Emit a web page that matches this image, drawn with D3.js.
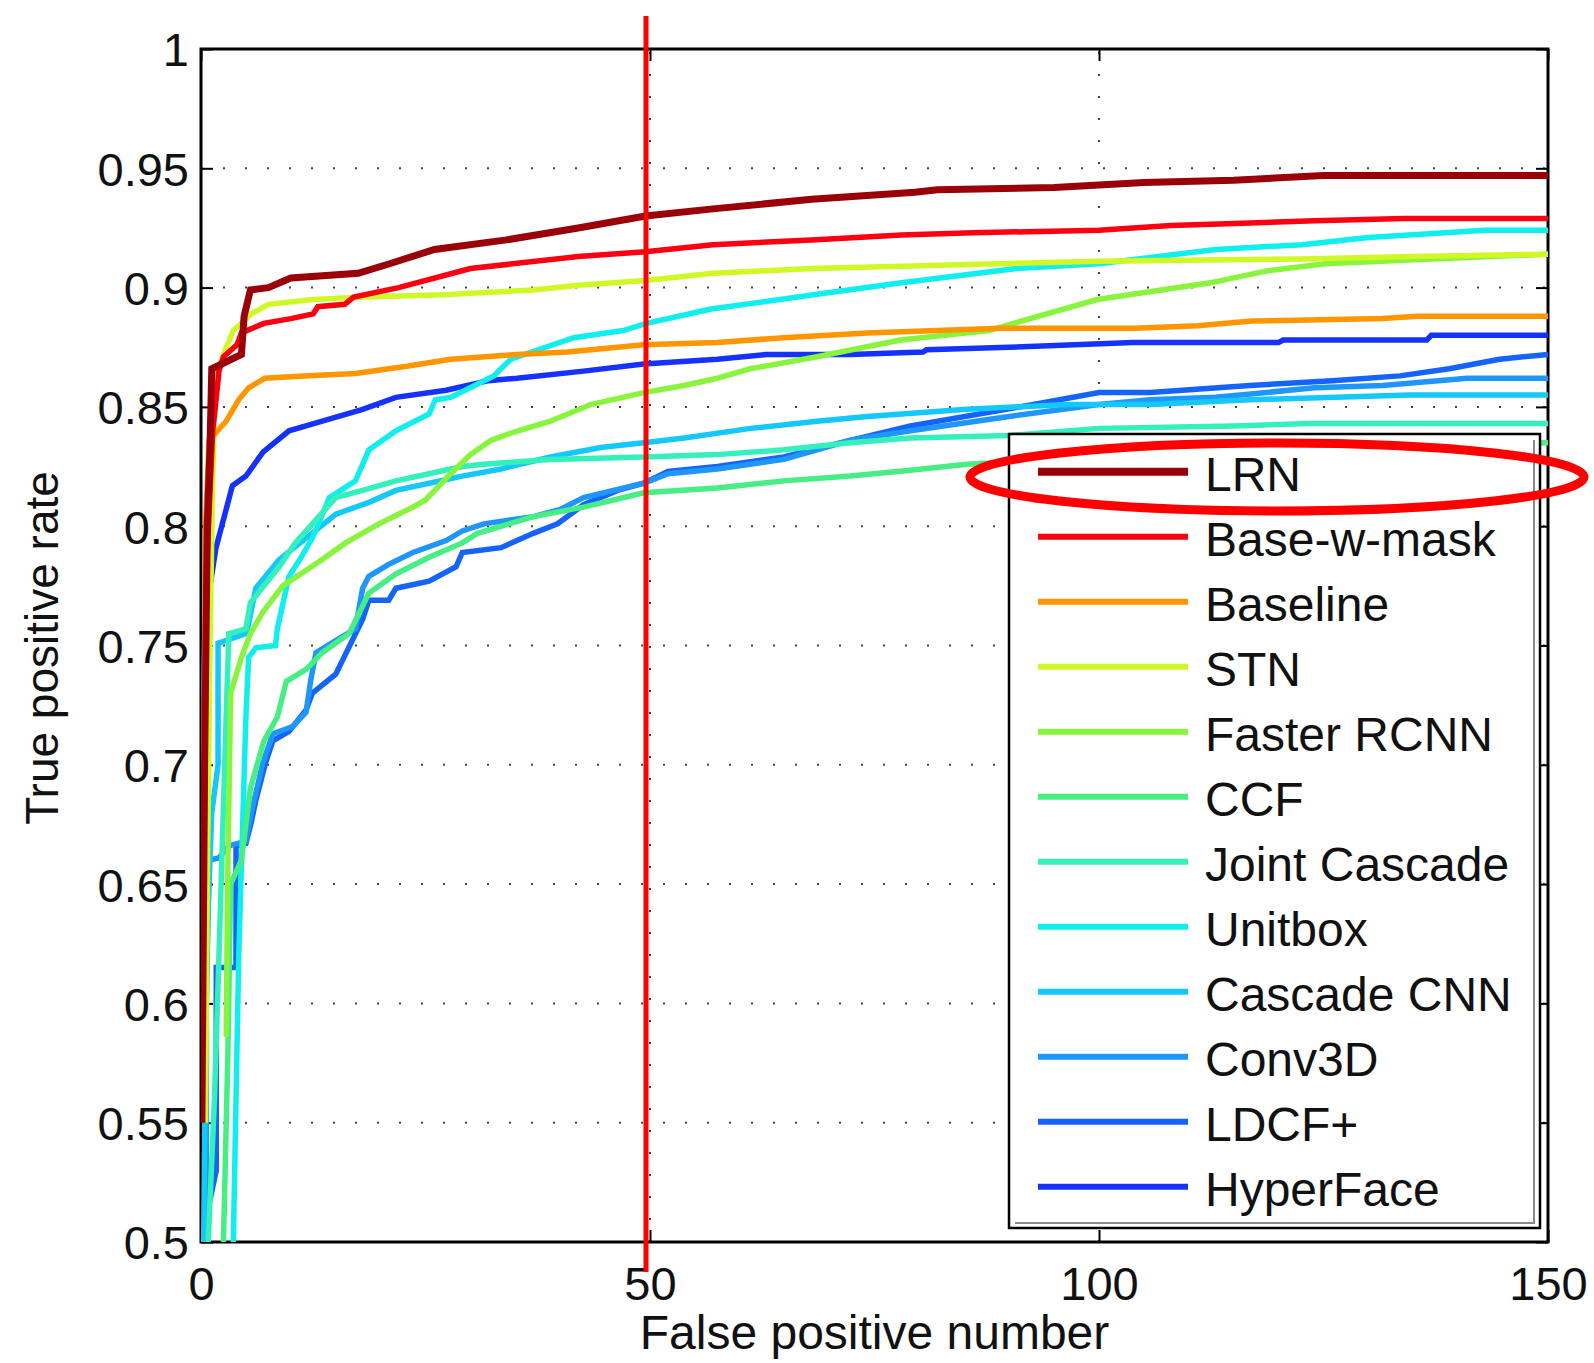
<!DOCTYPE html>
<html>
<head>
<meta charset="utf-8">
<script src="https://cdn.jsdelivr.net/npm/d3@7"></script>
<style>
  html, body { margin: 0; padding: 0; background: #fff; }
  svg text { font-family: "Liberation Sans", Arial, sans-serif; fill: #111; }
</style>
</head>
<body>
<div id="plot"></div>
<script>
// series: [false positives, true positive rate]
const lrn = [[0.1,0.55],[0.4,0.70],[0.7,0.80],[1,0.833],[1.2,0.866],[4.5,0.872],[4.8,0.888],[5.5,0.899],[7.5,0.900],[10,0.904],[17.5,0.906],[21,0.910],[26,0.916],[34,0.920],[42,0.925],[49.5,0.930],[57,0.933],[68,0.937],[79.5,0.940],[82,0.941],[95,0.942],[105,0.944],[115,0.945],[125,0.947],[150,0.947]];
const baseWMask = [[0.2,0.60],[0.6,0.78],[1.3,0.84],[1.6,0.85],[2,0.865],[2.5,0.871],[4,0.876],[4.5,0.881],[7,0.885],[10,0.887],[12.5,0.889],[13,0.892],[16,0.893],[17,0.896],[22,0.900],[30,0.908],[42,0.913],[49.5,0.915],[57,0.918],[68,0.920],[78,0.922],[86,0.923],[100,0.924],[108,0.926],[116,0.927],[124,0.928],[134,0.929],[150,0.929]];
const baseline = [[0,0.55],[0.2,0.65],[0.5,0.80],[0.9,0.836],[2.8,0.844],[4.2,0.853],[5.3,0.858],[7.1,0.862],[11.5,0.863],[17.2,0.864],[22.9,0.867],[27.8,0.870],[35.2,0.872],[40.8,0.873],[49.3,0.876],[57.5,0.877],[64.9,0.879],[74.2,0.881],[89,0.883],[104,0.883],[111,0.884],[117,0.886],[131.6,0.887],[135.4,0.888],[150,0.888]];
const stn = [[0.5,0.55],[0.7,0.65],[1,0.75],[1.3,0.82],[1.6,0.862],[2.5,0.872],[3.6,0.882],[5.6,0.889],[7.5,0.893],[12.5,0.895],[17.5,0.896],[27,0.897],[37,0.899],[42,0.901],[49.5,0.903],[57,0.906],[68,0.908],[78,0.909],[100,0.911],[122.6,0.912],[135,0.913],[150,0.914]];
const fasterRcnn = [[2.8,0.586],[3,0.66],[3.3,0.73],[4.5,0.745],[5.5,0.755],[6.9,0.764],[9.1,0.775],[13.5,0.786],[16.1,0.793],[19.8,0.801],[23.6,0.808],[25,0.811],[27.8,0.822],[30,0.830],[32.3,0.836],[34.5,0.839],[38.9,0.844],[43.4,0.851],[49.3,0.856],[53.8,0.859],[57.5,0.862],[61.2,0.866],[68.6,0.871],[77.9,0.878],[87.7,0.882],[99.8,0.895],[112.4,0.902],[118.7,0.907],[125.2,0.910],[137,0.912],[150,0.914]];
const ccf = [[2.5,0.50],[3,0.58],[3.3,0.65],[4.5,0.66],[5.5,0.69],[7,0.71],[8.5,0.72],[9.5,0.735],[11.7,0.740],[13.5,0.747],[15,0.751],[16.5,0.755],[18.7,0.772],[21.7,0.780],[25.4,0.787],[29.1,0.793],[30.8,0.797],[37,0.804],[42.6,0.808],[49.3,0.814],[57.5,0.816],[64.9,0.819],[72.3,0.821],[77.9,0.823],[85.3,0.826],[100,0.829],[120,0.832],[150,0.835]];
const jointCascade = [[0.8,0.50],[1.5,0.56],[2,0.62],[2.8,0.72],[3.1,0.755],[5,0.757],[5.5,0.768],[7,0.775],[8.7,0.783],[10.5,0.793],[12.4,0.801],[15,0.812],[18,0.815],[21.7,0.819],[25.4,0.822],[29.1,0.825],[31.5,0.826],[38.9,0.828],[49.3,0.829],[57.5,0.830],[64.9,0.832],[72.3,0.835],[79,0.837],[90,0.838],[100,0.841],[115,0.842],[123.4,0.843],[150,0.843]];
const unitbox = [[3.6,0.50],[4.2,0.62],[5,0.72],[5.3,0.745],[6.1,0.749],[8.3,0.750],[8.5,0.757],[9.8,0.779],[11,0.786],[12.4,0.795],[14.3,0.812],[17.2,0.819],[18.7,0.832],[21.7,0.840],[25.4,0.847],[26.1,0.853],[27.8,0.854],[32.6,0.863],[34.5,0.870],[41.5,0.879],[47,0.882],[49.6,0.885],[56.8,0.891],[68.2,0.897],[78,0.902],[90.8,0.908],[100,0.910],[113,0.916],[122.6,0.918],[130,0.921],[143,0.924],[150,0.924]];
const cascadeCnn = [[0.3,0.50],[0.6,0.62],[1.2,0.68],[1.9,0.70],[1.9,0.751],[5,0.755],[5.3,0.759],[6.1,0.774],[8.7,0.786],[11.7,0.795],[15,0.805],[18.7,0.810],[21.7,0.815],[25.4,0.818],[29.1,0.821],[33.4,0.824],[38.9,0.829],[44.5,0.833],[49.3,0.835],[53.8,0.837],[61.2,0.841],[68.6,0.844],[74.2,0.846],[85.3,0.849],[96.5,0.851],[105.7,0.851],[116.8,0.853],[134.6,0.855],[150,0.855]];
const conv3d = [[0,0.50],[0.6,0.50],[0.6,0.60],[0.9,0.660],[2,0.661],[3.1,0.666],[5,0.668],[5.6,0.680],[6.9,0.701],[8,0.713],[10.2,0.716],[11.7,0.722],[12.2,0.735],[12.8,0.747],[15,0.752],[17.2,0.757],[18,0.774],[18.7,0.779],[20.9,0.784],[23.6,0.789],[27.3,0.794],[29.1,0.798],[31.5,0.801],[37,0.804],[40,0.807],[42.6,0.812],[49.3,0.818],[52,0.822],[57.5,0.824],[64.9,0.828],[72.3,0.836],[79,0.840],[90,0.846],[100,0.851],[105.7,0.853],[113,0.854],[124,0.858],[131.6,0.859],[141,0.862],[150,0.862]];
const ldcf = [[0,0.50],[1.7,0.53],[1.7,0.615],[3.9,0.615],[3.9,0.666],[5,0.667],[5.6,0.676],[6.1,0.685],[7.2,0.701],[8,0.710],[9.8,0.714],[11.7,0.723],[12.4,0.730],[15,0.738],[18,0.761],[18.7,0.769],[20.9,0.769],[21.7,0.774],[25.4,0.777],[28.4,0.783],[29.1,0.789],[33.4,0.791],[37,0.797],[39.7,0.801],[42.6,0.809],[46.4,0.815],[49.3,0.818],[52,0.823],[57.5,0.825],[64.9,0.829],[72.3,0.836],[79,0.842],[92.7,0.851],[100,0.856],[105.7,0.856],[116.8,0.859],[126,0.861],[133.5,0.863],[139,0.866],[144.6,0.870],[150,0.872]];
const hyperFace = [[0,0.728],[0.2,0.730],[0.56,0.764],[1.67,0.791],[3.5,0.817],[5,0.821],[6.9,0.831],[9.8,0.840],[13.5,0.844],[18,0.849],[21.7,0.854],[27.3,0.857],[32,0.861],[35.2,0.862],[42.6,0.865],[49.3,0.868],[57.5,0.870],[63,0.872],[72.3,0.872],[80.4,0.873],[80.8,0.874],[90,0.875],[103.8,0.877],[120,0.877],[120.5,0.878],[136.5,0.878],[137,0.880],[150,0.880]];

const names = ["LRN", "Base-w-mask", "Baseline", "STN", "Faster RCNN", "CCF", "Joint Cascade", "Unitbox", "Cascade CNN", "Conv3D", "LDCF+", "HyperFace"];
const seriesData = [lrn, baseWMask, baseline, stn, fasterRcnn, ccf, jointCascade, unitbox, cascadeCnn, conv3d, ldcf, hyperFace];
const colors = ["#990008", "#fa0010", "#ff9600", "#d0f826", "#88f43e", "#46ee84", "#34f0bc", "#10eeee", "#14c8fa", "#1e96fa", "#1464fa", "#1432fa"];

const xTicks = [0, 50, 100, 150];
const yTicks = [0.5, 0.55, 0.6, 0.65, 0.7, 0.75, 0.8, 0.85, 0.9, 0.95, 1];

const W = 1594, H = 1363;
const pLeft = 201, pRight = 1548, pTop = 49, pBottom = 1242;

const svg = d3.select("#plot").append("svg")
  .attr("width", W).attr("height", H)
  .style("display", "block");

const x = d3.scaleLinear().domain([0, 150]).range([pLeft, pRight]);
const y = d3.scaleLinear().domain([0.5, 1]).range([pBottom, pTop]);

// dotted grid
const grid = svg.append("g").attr("stroke", "#444").attr("stroke-width", 2).attr("stroke-dasharray", "2 20");
yTicks.filter(t => t > 0.5 && t < 1).forEach(t => {
  grid.append("line").attr("x1", pLeft).attr("x2", pRight).attr("y1", y(t)).attr("y2", y(t));
});
xTicks.filter(t => t > 0 && t < 150).forEach(t => {
  grid.append("line").attr("x1", x(t)).attr("x2", x(t)).attr("y1", pBottom).attr("y2", pTop);
});

// axes, ticks pointing inward on all four sides
const fmt = d => String(+d.toFixed(2));
const gl = svg.append("g").attr("transform", `translate(${pLeft},0)`)
  .call(d3.axisLeft(y).tickValues(yTicks).tickSize(-12).tickSizeOuter(0).tickPadding(12).tickFormat(fmt));
const gb = svg.append("g").attr("transform", `translate(0,${pBottom})`)
  .call(d3.axisBottom(x).tickValues(xTicks).tickSize(-12).tickSizeOuter(0).tickPadding(25).tickFormat(d3.format("d")));
svg.append("g").attr("transform", `translate(0,${pTop})`)
  .call(d3.axisTop(x).tickValues(xTicks).tickSize(-12).tickSizeOuter(0).tickFormat(""));
svg.append("g").attr("transform", `translate(${pRight},0)`)
  .call(d3.axisRight(y).tickValues(yTicks).tickSize(-12).tickSizeOuter(0).tickFormat(""));

svg.selectAll(".tick line").attr("stroke", "#000").attr("stroke-width", 2);
svg.selectAll(".domain").attr("stroke", "none");
[gl, gb].forEach(g => g.selectAll("text").attr("font-size", 47).attr("fill", "#111"));
gl.selectAll("text").attr("dy", "0.36em");

svg.append("rect")
  .attr("x", pLeft).attr("y", pTop)
  .attr("width", pRight - pLeft).attr("height", pBottom - pTop)
  .attr("fill", "none").attr("stroke", "#000").attr("stroke-width", 3);

// axis titles
svg.append("text")
  .attr("x", (pLeft + pRight) / 2).attr("y", 1349)
  .attr("text-anchor", "middle").attr("font-size", 48)
  .text("False positive number");
svg.append("text")
  .attr("transform", "translate(58,648) rotate(-90)")
  .attr("text-anchor", "middle").attr("font-size", 46)
  .text("True positive rate");

// curves, clipped to the axes box
svg.append("clipPath").attr("id", "clip")
  .append("rect").attr("x", pLeft).attr("y", pTop).attr("width", pRight - pLeft).attr("height", pBottom - pTop);

const line = d3.line().x(d => x(d[0])).y(d => y(d[1]));
const curves = svg.append("g").attr("clip-path", "url(#clip)");
// later entries drawn first so the legend order sits on top
for (let i = seriesData.length - 1; i >= 0; i--) {
  curves.append("path")
    .attr("d", line(seriesData[i]))
    .attr("fill", "none")
    .attr("stroke", colors[i])
    .attr("stroke-width", i === 0 ? 7 : 5.5)
    .attr("stroke-linejoin", "miter");
}

// legend box
const lgX = 1009, lgY = 434, lgW = 531, lgH = 794;
const lg = svg.append("g");
lg.append("rect")
  .attr("x", lgX).attr("y", lgY).attr("width", lgW).attr("height", lgH)
  .attr("fill", "#fff").attr("stroke", "#000").attr("stroke-width", 2.5);
lg.append("polyline")
  .attr("points", `${lgX + 6},${lgY + lgH - 5} ${lgX + lgW - 6},${lgY + lgH - 5} ${lgX + lgW - 6},${lgY + 6}`)
  .attr("fill", "none").attr("stroke", "#8a8a8a").attr("stroke-width", 2);

const rowY = i => 471.7 + i * 65;
names.forEach((n, i) => {
  lg.append("line")
    .attr("x1", 1038).attr("x2", 1188)
    .attr("y1", rowY(i)).attr("y2", rowY(i))
    .attr("stroke", colors[i]).attr("stroke-width", i === 0 ? 8 : 6);
  lg.append("text")
    .attr("x", 1205).attr("y", rowY(i) + 19)
    .attr("font-size", 48)
    .text(n);
});

// red annotation marks
svg.append("line")
  .attr("x1", 646).attr("x2", 646).attr("y1", 16).attr("y2", 1272)
  .attr("stroke", "#ff0000").attr("stroke-width", 5);
svg.append("ellipse")
  .attr("cx", 1277).attr("cy", 477).attr("rx", 307).attr("ry", 34)
  .attr("fill", "none").attr("stroke", "#ff0000").attr("stroke-width", 9);
</script>
</body>
</html>
